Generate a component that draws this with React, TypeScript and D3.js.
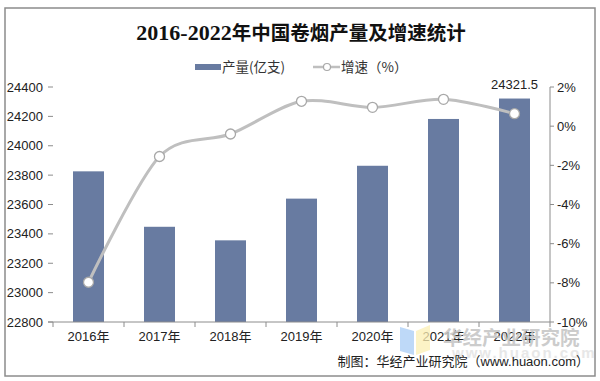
import React from "react";
import * as d3 from "d3";

const years = ["2016年", "2017年", "2018年", "2019年", "2020年", "2021年", "2022年"];
const output = [23825.8, 23448.3, 23356, 23640, 23863.7, 24182.4, 24321.5];
const growth = [-7.97, -1.55, -0.4, 1.27, 0.96, 1.37, 0.64];
const leftTicks = [22800, 23000, 23200, 23400, 23600, 23800, 24000, 24200, 24400];
const rightTicks = [-10, -8, -6, -4, -2, 0, 2];

const W = 600;
const H = 381;
const L = 53;
const R = 550;
const T = 87;
const B = 322;

const sans = "'Liberation Sans', Arial, 'Noto Sans CJK SC', sans-serif";
const cjk = "'Noto Sans CJK SC', 'Liberation Sans', sans-serif";
const axisColor = "#8c8c8c";
const barColor = "#687BA1";
const lineColor = "#BFBFBF";

export default function App() {
  const x = d3.scaleBand<string>().domain(years).range([L, R]).paddingInner(0).paddingOuter(0);
  const yL = d3.scaleLinear().domain([22800, 24400]).range([B, T]);
  const yR = d3.scaleLinear().domain([-10, 2]).range([B, T]);
  const bw = 31;
  const cx = (d: string) => (x(d) as number) + x.bandwidth() / 2;
  const pts: [number, number][] = years.map((d, i) => [cx(d), yR(growth[i])]);
  const line = d3.line().curve(d3.curveCardinal.tension(0.1))(pts) || "";
  const boundaries = d3.range(years.length + 1).map((i) => L + x.bandwidth() * i);

  return (
    <svg width={W} height={H} style={{ position: "absolute", left: 0, top: 0 }}>
      <rect x={0} y={0} width={W} height={H} fill="#fff" />
      <rect x={5} y={8} width={590} height={368} fill="none" stroke="#8c8c8c" strokeWidth={1.5} />

      <text x={301} y={40} textAnchor="middle" fill="#111">
        <tspan fontFamily="'Liberation Serif', 'Times New Roman', serif" fontSize={22} fontWeight={700}>2016-2022</tspan>
        <tspan fontFamily={cjk} fontSize={19.5} fontWeight={700}>年中国卷烟产量及增速统计</tspan>
      </text>

      {/* legend */}
      <rect x={195} y={64} width={26} height={6} fill={barColor} />
      <text x={222} y={72} fontFamily={cjk} fontSize={13.5} fill="#333">产量(亿支)</text>
      <line x1={313} x2={340} y1={67} y2={67} stroke={lineColor} strokeWidth={2.5} />
      <circle cx={327} cy={67} r={3.5} fill="#fff" stroke="#a8a8a8" strokeWidth={1.2} />
      <text x={341} y={72} fontFamily={cjk} fontSize={13.5} fill="#333">增速（%）</text>

      {/* left axis labels/ticks */}
      {leftTicks.map((t) => (
        <g key={t}>
          <line x1={48} x2={L} y1={yL(t)} y2={yL(t)} stroke={axisColor} />
          <text x={43} y={yL(t) + 4.5} textAnchor="end" fontFamily={sans} fontSize={13} fill="#222">{t}</text>
        </g>
      ))}

      {/* right axis */}
      <line x1={R} x2={R} y1={T} y2={B} stroke={axisColor} />
      {rightTicks.map((t) => (
        <g key={t}>
          <line x1={R} x2={R + 4} y1={yR(t)} y2={yR(t)} stroke={axisColor} />
          <text x={557} y={yR(t) + 4.5} fontFamily={sans} fontSize={13} fill="#222">{t}%</text>
        </g>
      ))}

      {/* bars */}
      {years.map((d, i) => (
        <rect key={d} x={cx(d) - bw / 2} y={yL(output[i])} width={bw} height={B - yL(output[i])} fill={barColor} />
      ))}

      {/* x axis */}
      <line x1={L - 5} x2={R} y1={B} y2={B} stroke={axisColor} />
      {boundaries.map((b, i) => (
        <line key={i} x1={b} x2={b} y1={B} y2={B + 5} stroke={axisColor} />
      ))}
      {years.map((d) => (
        <text key={d} x={cx(d)} y={341} textAnchor="middle" fontFamily={sans} fontSize={13} fill="#222">{d}</text>
      ))}

      {/* line */}
      <path d={line} fill="none" stroke={lineColor} strokeWidth={3} />
      {pts.map((p, i) => (
        <circle key={i} cx={p[0]} cy={p[1]} r={5} fill="#fff" stroke="#a8a8a8" strokeWidth={1.3} />
      ))}

      {/* data label */}
      <text x={cx(years[6])} y={89} textAnchor="middle" fontFamily={sans} fontSize={13} fill="#222">{output[6]}</text>

      {/* watermark */}
      <g opacity={0.75}>
        <polygon points="400,327 414,331 414,355 400,351" fill="#a9cdf6" />
        <polygon points="416,331 430,325 430,350 416,355" fill="#fcefb4" />
      </g>
      <text x={443} y={345} fontFamily={cjk} fontSize={19.5} fontWeight={700} fill="#c4c4c4" opacity={0.85}>华经产业研究院</text>
      <text x={452} y={358} fontFamily={sans} fontSize={15} fontWeight={700} fill="#d8d8d8" opacity={0.6} letterSpacing={2}>www.huaon.com</text>

      {/* footer */}
      <text x={589} y={366} textAnchor="end" fontFamily={cjk} fontSize={13} fill="#222">
        制图：华经产业研究院（<tspan fontFamily={sans}>www.huaon.com</tspan>）
      </text>
    </svg>
  );
}
